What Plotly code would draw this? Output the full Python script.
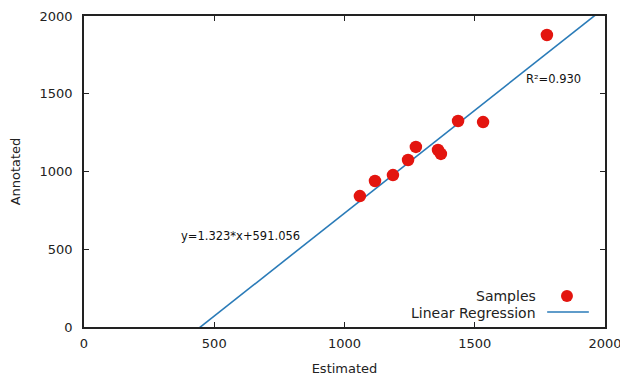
import plotly.graph_objects as go

# Data
estimated = [1059, 1117, 1186, 1244, 1274, 1359, 1370, 1436, 1532, 1777]
annotated = [842, 939, 977, 1074, 1158, 1138, 1113, 1325, 1318, 1878]
slope = 1.323
intercept = -591.056
line_x = [0, 2000]
line_y = [slope * v + intercept for v in line_x]
eq_label = "y=1.323*x+591.056"
r2_label = "R²=0.930"
x_ticks = [0, 500, 1000, 1500, 2000]
y_ticks = [0, 500, 1000, 1500, 2000]

font = "DejaVu Sans, sans-serif"
red = "#e3150f"
blue = "#2a7bb8"
txt = "#222"

fig = go.Figure()
fig.add_trace(go.Scatter(x=line_x, y=line_y, mode="lines",
                         line=dict(color=blue, width=1.6), showlegend=False))
fig.add_trace(go.Scatter(x=estimated, y=annotated, mode="markers",
                         marker=dict(color=red, size=12.5), showlegend=False))

axis_common = dict(showline=True, linecolor=txt, linewidth=1.5, mirror="ticks",
                   ticks="inside", ticklen=5, tickcolor=txt, tickwidth=1,
                   showgrid=False, zeroline=False, automargin=False,
                   tickfont=dict(family=font, size=13, color=txt))
fig.update_xaxes(range=[0, 2000], tickvals=x_ticks, ticklabelstandoff=4,
                 title=dict(text="Estimated", font=dict(family=font, size=13, color=txt), standoff=14),
                 **axis_common)
fig.update_yaxes(range=[0, 2000], tickvals=y_ticks, ticklabelstandoff=7,
                 title=dict(text="Annotated", font=dict(family=font, size=13, color=txt), standoff=25),
                 **axis_common)

fig.add_annotation(x=599, y=585, text=eq_label, showarrow=False,
                   font=dict(family=font, size=11.5, color="#111"))
fig.add_annotation(x=1804, y=1595, text=r2_label, showarrow=False,
                   font=dict(family=font, size=11.5, color="#111"))

# gnuplot-style legend (text left of key)
fig.add_annotation(xref="paper", yref="paper", x=0.872, y=0.0997,
                   xanchor="right", yanchor="middle",
                   text="Samples", showarrow=False, font=dict(family=font, size=14, color=txt))
fig.add_annotation(xref="paper", yref="paper", x=0.872, y=0.045,
                   xanchor="right", yanchor="middle",
                   text="Linear Regression", showarrow=False, font=dict(family=font, size=14, color=txt))
fig.add_shape(type="circle", xref="paper", yref="paper",
              x0=0.9155, x1=0.9385, y0=0.0804, y1=0.119,
              fillcolor=red, line=dict(color=red, width=0))
fig.add_shape(type="line", xref="paper", yref="paper",
              x0=0.889, x1=0.969, y0=0.048, y1=0.048,
              line=dict(color=blue, width=1.6))

# page body has an 8px default margin, so the figure is offset by (8, 8)
fig.update_layout(width=620, height=368, margin=dict(l=76, r=23, t=8, b=49),
                  plot_bgcolor="white", paper_bgcolor="white",
                  font=dict(family=font))
fig.write_html("out.html")
